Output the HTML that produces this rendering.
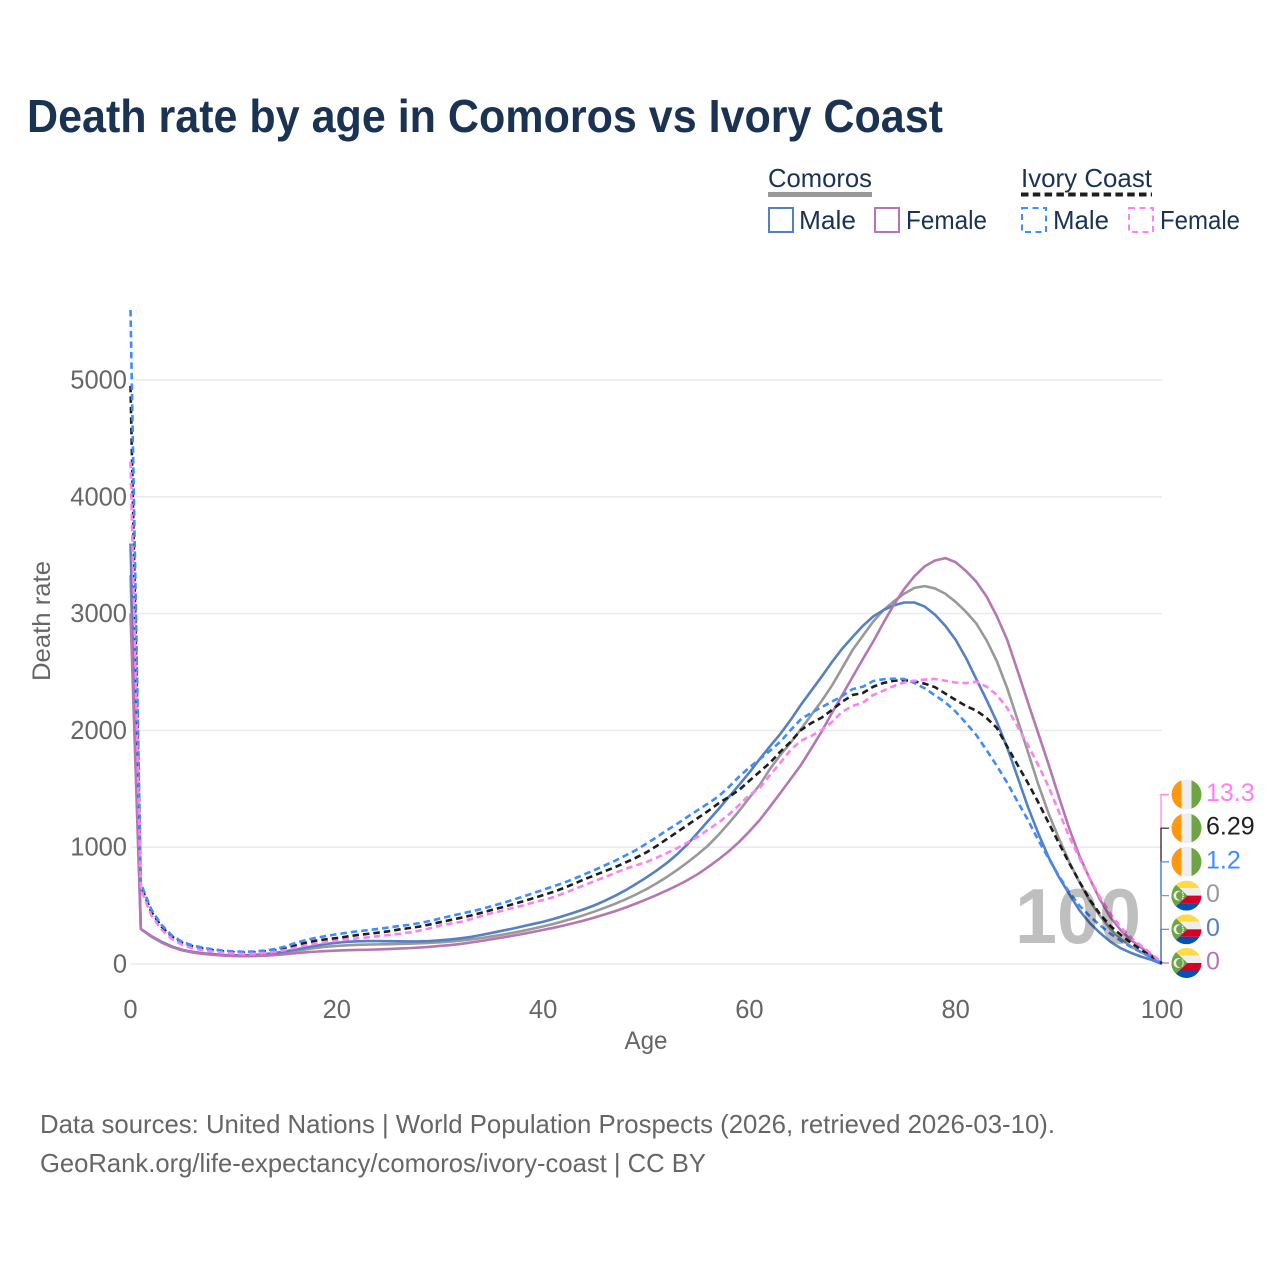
<!DOCTYPE html>
<html lang="en">
<head>
<meta charset="utf-8">
<title>Death rate by age in Comoros vs Ivory Coast</title>
<style>
html,body{margin:0;padding:0;background:#fff;width:1280px;height:1280px;overflow:hidden}
svg{display:block}
text{font-family:"Liberation Sans",sans-serif}
</style>
</head>
<body>
<svg id="chart" xmlns="http://www.w3.org/2000/svg" width="1280" height="1280" viewBox="0 0 1280 1280">
<defs>
<clipPath id="flag-clip"><circle cx="0" cy="0" r="15"/></clipPath>
<g id="flag-ivory" clip-path="url(#flag-clip)">
<rect x="-15" y="-15" width="10" height="30" fill="#ff9811"/>
<rect x="-5" y="-15" width="10" height="30" fill="#eeeeee"/>
<rect x="5" y="-15" width="10" height="30" fill="#6da544"/>
</g>
<g id="flag-comoros" clip-path="url(#flag-clip)">
<rect x="-15" y="-15" width="30" height="7.5" fill="#ffda44"/>
<rect x="-15" y="-7.5" width="30" height="7.5" fill="#eeeeee"/>
<rect x="-15" y="0" width="30" height="7.5" fill="#d80027"/>
<rect x="-15" y="7.5" width="30" height="7.5" fill="#0052b4"/>
<polygon points="-15,-15 1,0 -15,15" fill="#6da544"/>
<circle cx="-8" cy="0" r="5" fill="#eeeeee"/>
<circle cx="-6" cy="0" r="4.4" fill="#6da544"/>
<circle cx="-4" cy="-3" r=".8" fill="#eeeeee"/>
<circle cx="-3.4" cy="-1" r=".8" fill="#eeeeee"/>
<circle cx="-3.4" cy="1" r=".8" fill="#eeeeee"/>
<circle cx="-4" cy="3" r=".8" fill="#eeeeee"/>
</g>
</defs>

<text x="27" y="132" font-size="46" font-weight="700" fill="#1a3353" textLength="916" lengthAdjust="spacingAndGlyphs">Death rate by age in Comoros vs Ivory Coast</text>

<g>
<g>
<text x="768" y="187" font-size="26" fill="#1a3353" textLength="104" lengthAdjust="spacingAndGlyphs">Comoros</text>
<rect x="768" y="192" width="104" height="5" fill="#999999"/>
<rect x="769" y="208" width="24" height="24" fill="none" stroke="#5580c4" stroke-width="2"/>
<text x="799" y="229" font-size="26" fill="#1a3353" textLength="57" lengthAdjust="spacingAndGlyphs">Male</text>
<rect x="875" y="208" width="24" height="24" fill="none" stroke="#b577b3" stroke-width="2"/>
<text x="906" y="229" font-size="26" fill="#1a3353" textLength="81" lengthAdjust="spacingAndGlyphs">Female</text>
</g>
<g>
<text x="1021" y="187" font-size="26" fill="#1a3353" textLength="131" lengthAdjust="spacingAndGlyphs">Ivory Coast</text>
<line x1="1021" y1="194.5" x2="1152" y2="194.5" stroke="#1e1e1e" stroke-width="4" stroke-dasharray="7.5 4.3"/>
<rect x="1022" y="208" width="24" height="24" fill="none" stroke="#3f8cff" stroke-width="2" stroke-dasharray="6 4.5"/>
<text x="1053" y="229" font-size="26" fill="#1a3353" textLength="56" lengthAdjust="spacingAndGlyphs">Male</text>
<rect x="1129" y="208" width="24" height="24" fill="none" stroke="#ff80f0" stroke-width="2" stroke-dasharray="6 4.5"/>
<text x="1160" y="229" font-size="26" fill="#1a3353" textLength="80" lengthAdjust="spacingAndGlyphs">Female</text>
</g>
</g>

<g id="grid"></g>
<g id="y-ticks"></g>
<g id="x-ticks"></g>
<text transform="translate(50 621) rotate(-90)" text-anchor="middle" font-size="25" fill="#666666" textLength="120" lengthAdjust="spacingAndGlyphs">Death rate</text>
<text x="646" y="1049" text-anchor="middle" font-size="25" fill="#666666" textLength="43" lengthAdjust="spacingAndGlyphs">Age</text>

<g id="connectors"></g>
<g id="series"></g>
<g id="end-labels"></g>

<text x="1015" y="943" font-size="78" font-weight="700" fill="#000000" fill-opacity="0.25" textLength="126" lengthAdjust="spacingAndGlyphs">100</text>

<text x="40" y="1133" font-size="26" fill="#666666" textLength="1015" lengthAdjust="spacingAndGlyphs">Data sources: United Nations | World Population Prospects (2026, retrieved 2026-03-10).</text>
<text x="40" y="1172" font-size="26" fill="#666666" textLength="666" lengthAdjust="spacingAndGlyphs">GeoRank.org/life-expectancy/comoros/ivory-coast | CC BY</text>
</svg>

<script>
var yTickValues = [0, 1000, 2000, 3000, 4000, 5000];
var xTickValues = [0, 20, 40, 60, 80, 100];

var comorosBoth = [3330,300,238,188,148,120,102,90,82,76,73,73,75,80,88,100,112,125,138,148,155,160,164,166,168,170,172,174,177,181,186,192,200,210,222,236,250,266,283,302,322,343,367,392,420,450,482,516,554,595,640,690,745,805,870,940,1015,1105,1205,1310,1424,1533,1670,1790,1895,2012,2132,2252,2383,2535,2688,2811,2931,3030,3105,3170,3220,3235,3215,3170,3100,3015,2915,2770,2590,2360,2090,1816,1540,1290,1077,875,700,540,410,300,215,150,100,55,0];
var comorosMale = [3600,300,240,190,150,122,104,92,84,78,75,75,78,84,94,108,124,140,158,172,182,190,194,196,196,195,194,193,194,197,203,210,220,232,248,266,284,302,322,342,362,385,412,440,470,503,542,585,632,685,740,800,865,940,1025,1125,1225,1325,1430,1533,1640,1755,1865,1970,2090,2220,2340,2460,2585,2700,2800,2895,2975,3030,3070,3095,3095,3060,2990,2895,2775,2620,2438,2260,2070,1850,1600,1345,1120,915,745,600,460,350,265,190,135,95,62,35,0];
var comorosFemale = [3000,300,235,185,145,117,99,87,78,72,68,67,68,71,76,84,92,100,106,111,115,118,120,122,125,128,132,136,141,147,155,162,172,184,197,212,226,241,257,274,292,310,330,351,373,398,425,453,484,517,553,590,630,672,718,770,830,895,965,1045,1135,1233,1347,1464,1584,1704,1845,1989,2149,2303,2457,2611,2760,2922,3075,3210,3320,3405,3455,3475,3440,3365,3273,3145,2975,2774,2510,2240,1976,1710,1432,1162,925,730,550,400,290,205,140,75,0];
var ivoryBoth = [4950,670,450,320,235,182,152,132,118,108,100,97,100,107,118,135,160,182,200,212,222,235,248,258,268,280,295,307,320,338,358,376,395,415,438,462,485,510,535,562,590,618,650,687,725,760,795,830,870,910,955,1010,1070,1130,1190,1250,1310,1375,1430,1490,1569,1646,1723,1818,1903,2003,2063,2109,2175,2246,2303,2320,2374,2406,2425,2430,2420,2400,2370,2315,2260,2209,2169,2106,2020,1860,1704,1550,1385,1210,1036,865,705,550,425,325,250,180,120,65,6.29];
var ivoryMale = [5600,690,470,335,245,190,160,140,125,115,108,104,108,115,128,150,180,205,225,240,255,268,280,290,300,312,325,335,350,368,390,410,430,450,470,495,520,548,575,605,635,665,695,730,768,805,845,885,930,975,1030,1085,1145,1200,1260,1318,1375,1435,1515,1604,1683,1753,1826,1903,2003,2096,2151,2199,2246,2295,2353,2374,2423,2438,2443,2440,2405,2360,2300,2240,2160,2063,1960,1830,1695,1550,1390,1233,1062,905,755,615,500,410,330,260,200,145,100,55,1.2];
var ivoryFemale = [4300,640,420,295,215,165,135,118,106,96,90,86,88,94,104,120,140,160,175,188,200,210,220,228,238,248,258,270,285,305,330,345,360,385,410,435,455,480,500,525,548,572,605,640,675,710,745,780,815,845,872,910,950,992,1040,1090,1150,1210,1280,1361,1447,1507,1618,1723,1832,1912,1952,2003,2072,2160,2209,2237,2303,2340,2380,2410,2425,2435,2440,2425,2410,2405,2417,2374,2303,2190,2032,1875,1704,1518,1304,1090,907,730,570,430,315,225,155,85,13.3];

var NS = 'http://www.w3.org/2000/svg';
function xScale(age) { return 130.5 + age * 10.315; }
function yScale(v) { return 964 - v * 0.1168; }
function mk(tag, parent) {
  var el = document.createElementNS(NS, tag);
  document.getElementById(parent).appendChild(el);
  return el;
}

yTickValues.forEach(function (v) {
  var g = mk('line', 'grid');
  
  
  g.setAttribute('x1', 130.5);
  g.setAttribute('x2', xScale(100));
  g.setAttribute('y1', yScale(v));
  g.setAttribute('y2', yScale(v));
  g.setAttribute('stroke', '#ebebeb');
  g.setAttribute('stroke-width', '1.6');

  var t = mk('text', 'y-ticks');
  
  
  t.setAttribute('x', 127);
  t.setAttribute('y', yScale(v) + 8.5);
  t.setAttribute('text-anchor', 'end');
  t.setAttribute('font-size', '25.5');
  t.setAttribute('fill', '#666666');
  t.textContent = String(v);
});

xTickValues.forEach(function (v) {
  var t = mk('text', 'x-ticks');
  
  
  t.setAttribute('x', xScale(v));
  t.setAttribute('y', 1018);
  t.setAttribute('text-anchor', 'middle');
  t.setAttribute('font-size', '25.5');
  t.setAttribute('fill', '#666666');
  t.textContent = String(v);
});

function drawLine(values, color, dashed, name) {
  var p = mk('polyline', 'series');
  
  
  p.setAttribute('points', values.map(function (v, i) {
    return xScale(i).toFixed(2) + ',' + yScale(v).toFixed(2);
  }).join(' '));
  p.setAttribute('fill', 'none');
  p.setAttribute('stroke', color);
  p.setAttribute('stroke-width', '2.6');
  p.setAttribute('stroke-linejoin', 'round');
  if (dashed) { p.setAttribute('stroke-dasharray', '6.5 4'); }
}
drawLine(comorosBoth, '#999999', false, 'line-comoros-both');
drawLine(comorosMale, '#5580c4', false, 'line-comoros-male');
drawLine(comorosFemale, '#b577b3', false, 'line-comoros-female');
drawLine(ivoryBoth, '#1e1e1e', true, 'line-ivory-coast-both');
drawLine(ivoryMale, '#3f8cff', true, 'line-ivory-coast-male');
drawLine(ivoryFemale, '#ff80f0', true, 'line-ivory-coast-female');

function drawEnd(values, color, flag, rank, name) {
  var last = values[values.length - 1];
  var ly = 794.5 + rank * 33.7;
  var c = mk('polyline', 'connectors');
  
  
  c.setAttribute('points', xScale(100) + ',' + yScale(last) + ' 1161,' + yScale(last) + ' 1161,' + ly + ' 1169,' + ly);
  c.setAttribute('fill', 'none');
  c.setAttribute('stroke', color);
  c.setAttribute('stroke-width', '1.2');

  var u = mk('use', 'end-labels');
  
  
  u.setAttribute('href', '#' + flag);
  u.setAttribute('transform', 'translate(1186.5 ' + ly + ')');

  var t = mk('text', 'end-labels');
  
  
  t.setAttribute('x', 1206);
  t.setAttribute('y', ly + 6.5);
  t.setAttribute('font-size', '25');
  t.setAttribute('fill', color);
  t.textContent = String(last);
}
drawEnd(ivoryFemale, '#ff80f0', 'flag-ivory', 0, 'end-ivory-female');
drawEnd(ivoryBoth, '#1e1e1e', 'flag-ivory', 1, 'end-ivory-both');
drawEnd(ivoryMale, '#3f8cff', 'flag-ivory', 2, 'end-ivory-male');
drawEnd(comorosBoth, '#999999', 'flag-comoros', 3, 'end-comoros-both');
drawEnd(comorosMale, '#5580c4', 'flag-comoros', 4, 'end-comoros-male');
drawEnd(comorosFemale, '#b577b3', 'flag-comoros', 5, 'end-comoros-female');
</script>
</body>
</html>
